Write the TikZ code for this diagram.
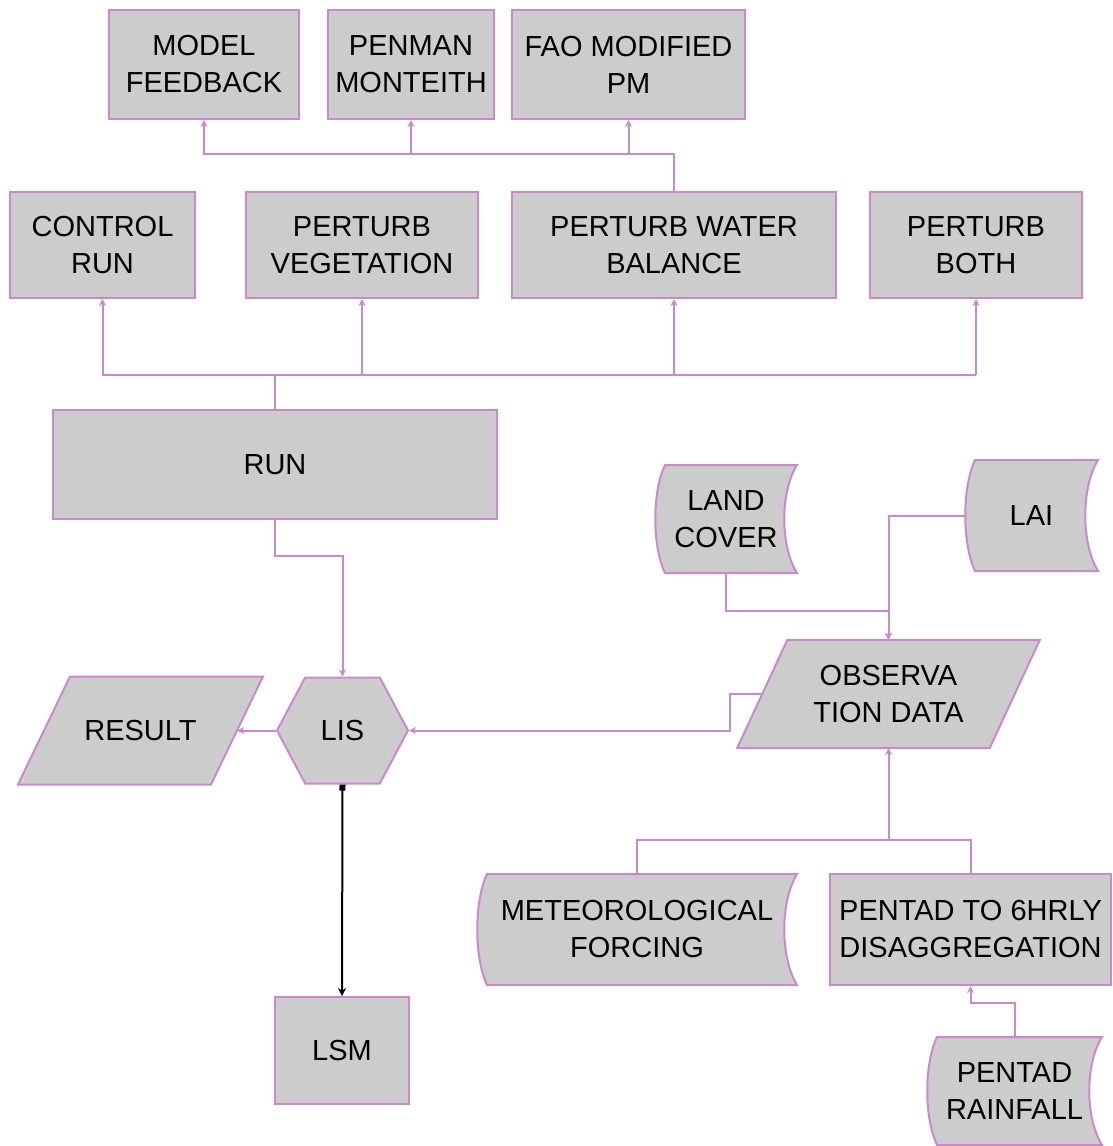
\documentclass[tikz,border=0pt]{standalone}
\usepackage{fontspec}
\setmainfont{Liberation Sans}
\usetikzlibrary{shapes.symbols,arrows.meta}

\definecolor{boxgray}{RGB}{204,204,204}
\definecolor{linkpink}{RGB}{204,136,204}

\tikzset{
  flowbox/.style={rectangle, draw=linkpink, fill=boxgray, line width=2pt,
    align=center, inner sep=0pt, font=\fontsize{29}{37}\selectfont},
  lisbox/.style={flowbox, signal, signal to=west and east, signal pointer angle=124},
  outline/.style={draw=linkpink, fill=boxgray, line width=2pt},
  boxtext/.style={rectangle, align=center, inner sep=0pt, font=\fontsize{29}{37}\selectfont},
  wire/.style={draw=linkpink, line width=2pt},
  link/.style={wire, -{Stealth[length=7pt,width=7pt]}},
  lsmlink/.style={draw=black, line width=2pt, {Square[length=6pt,width=6pt]}-{Stealth[length=8pt,width=8pt]}}
}

% stored data symbol: name, x, y, width, height, text
\newcommand\storeddata[6]{%
  \draw[outline] ({#2-#4/2+10},{#3-#5/2}) -- ({#2+#4/2},{#3-#5/2})
    .. controls ({#2+#4/2-17},{#3-#5/4}) and ({#2+#4/2-17},{#3+#5/4}) .. ({#2+#4/2},{#3+#5/2})
    -- ({#2-#4/2+10},{#3+#5/2})
    .. controls ({#2-#4/2-3},{#3+#5/4}) and ({#2-#4/2-3},{#3-#5/4}) .. cycle;
  \node[boxtext, minimum width=#4pt, minimum height=#5pt] (#1) at (#2,#3) {#6};
}
% data in/out symbol: name, x, y, mid width, height, slant, text
\newcommand\iodata[7]{%
  \draw[outline] ({#2-#4/2+#6/2},{#3-#5/2}) -- ({#2+#4/2+#6/2},{#3-#5/2})
    -- ({#2+#4/2-#6/2},{#3+#5/2}) -- ({#2-#4/2-#6/2},{#3+#5/2}) -- cycle;
  \node[boxtext, minimum width=#4pt, minimum height=#5pt] (#1) at (#2,#3) {#7};
}

\begin{document}
\begin{tikzpicture}[x=1pt,y=-1pt]
\useasboundingbox (0,0) rectangle (1113,1146);

\node[flowbox, minimum width=190pt, minimum height=109pt] (feedback) at (204,64.5) {MODEL\\FEEDBACK};
\node[flowbox, minimum width=166pt, minimum height=109pt] (penman) at (411,64.5) {PENMAN\\MONTEITH};
\node[flowbox, minimum width=233pt, minimum height=109pt] (faopm) at (628.5,64.5) {FAO MODIFIED\\PM};

\node[flowbox, minimum width=185pt, minimum height=106pt] (control) at (102.5,245) {CONTROL\\RUN};
\node[flowbox, minimum width=232pt, minimum height=106pt] (pveg) at (362,245) {PERTURB\\VEGETATION};
\node[flowbox, minimum width=324pt, minimum height=106pt] (pwater) at (674,245) {PERTURB WATER\\BALANCE};
\node[flowbox, minimum width=212pt, minimum height=106pt] (pboth) at (976,245) {PERTURB\\BOTH};

\node[flowbox, minimum width=444pt, minimum height=109pt] (run) at (275,464.5) {RUN};

\node[lisbox, minimum width=131pt, minimum height=106pt] (lis) at (342.5,730.5) {LIS};
\iodata{result}{140.5}{730.5}{193}{108}{52}{RESULT}
\iodata{obs}{888.5}{694}{252.5}{108}{50}{OBSERVA\\TION DATA}
\node[flowbox, minimum width=134pt, minimum height=107pt] (lsm) at (342,1050.5) {LSM};
\node[flowbox, minimum width=281pt, minimum height=111pt] (disagg) at (970.5,929.5) {PENTAD TO 6HRLY\\DISAGGREGATION};

\storeddata{landcover}{726}{519}{142}{108}{LAND\\COVER}
\storeddata{lai}{1031.5}{515.5}{133}{111}{LAI}
\storeddata{meteo}{637}{929.5}{320}{111}{METEOROLOGICAL\\FORCING}
\storeddata{rainfall}{1014.5}{1091}{175}{108}{PENTAD\\RAINFALL}

\coordinate (topbus) at (0,154);
\coordinate (runbus) at (0,375);
\coordinate (forcebus) at (0,840);

\draw[link] (pwater.north) -- (pwater.north |- topbus) -| (feedback.south);
\draw[link] (penman.south |- topbus) -- (penman.south);
\draw[link] (faopm.south |- topbus) -- (faopm.south);

\draw[wire] (run.north) -- (run.north |- runbus);
\draw[link] (pboth.south |- runbus) -| (control.south);
\draw[link] (pveg.south |- runbus) -- (pveg.south);
\draw[link] (pwater.south |- runbus) -- (pwater.south);
\draw[link] (pboth.south |- runbus) -- (pboth.south);

\draw[link] (run.south) -- ++(0,36) -| (lis.north);
\draw[link] (obs.west) -- ++(-32,0) |- (lis.east);
\draw[link] (lis.west) -- (result.east);
\draw[lsmlink] (lis.south) -- (lsm.north);

\draw[link] (landcover.south) -- ++(0,38) -| (obs.north);
\draw[link] (lai.west) -| (obs.north);

\draw[wire] (meteo.north) -- (meteo.north |- forcebus) -| (disagg.north);
\draw[link] (obs.south |- forcebus) -- (obs.south);
\draw[link] (rainfall.north) -- ++(0,-34) -| (disagg.south);
\end{tikzpicture}
\end{document}
